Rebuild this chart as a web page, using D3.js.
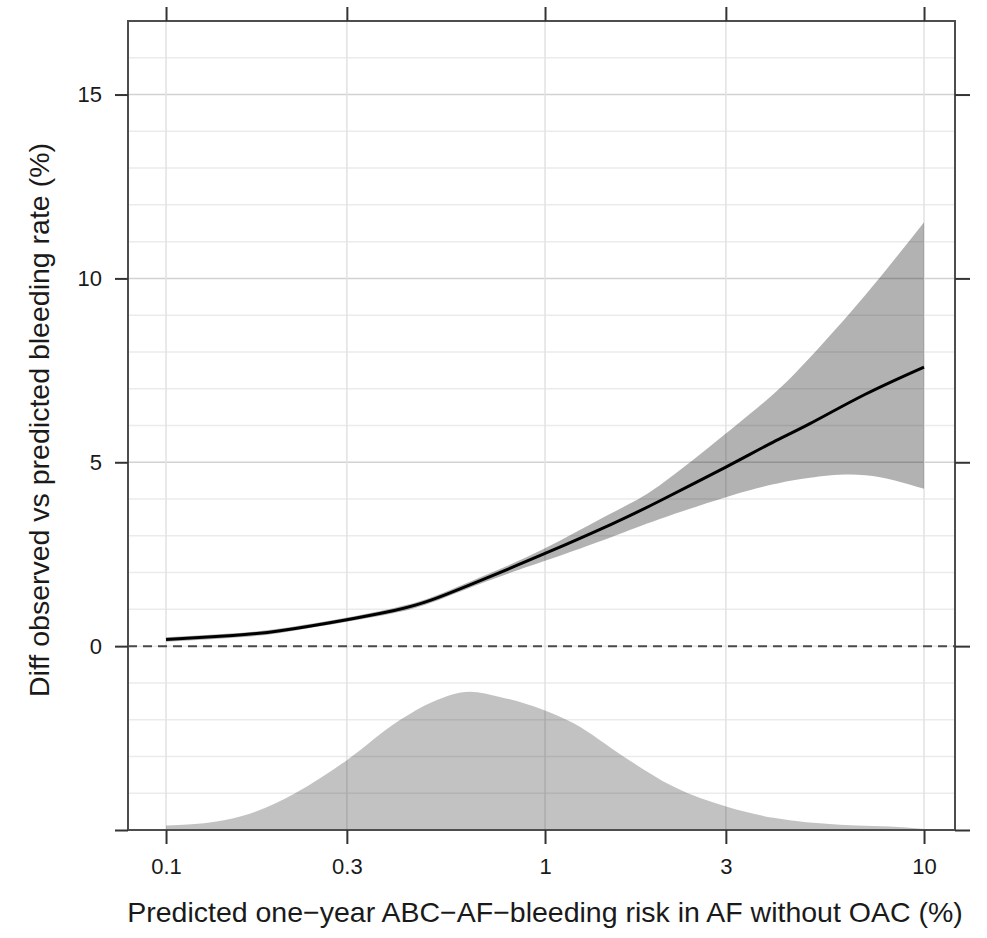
<!DOCTYPE html>
<html>
<head>
<meta charset="utf-8">
<script src="https://cdn.jsdelivr.net/npm/d3@7"></script>
<style>
  html, body { margin: 0; padding: 0; background: #fff; }
  svg { display: block; }
  text { font-family: "Liberation Sans", Arial, Helvetica, sans-serif; fill: #1a1a1a; }
</style>
</head>
<body>
<svg id="chart" width="987" height="938"></svg>
<script>
// ---- data ----
const xTickValues = [0.1, 0.3, 1, 3, 10];
const xTickLabels = ["0.1", "0.3", "1", "3", "10"];
const yTickValues = [-5, 0, 5, 10, 15];
const yTickLabels = ["", "0", "5", "10", "15"];

const fitX     = [0.1, 0.15, 0.2, 0.3, 0.4, 0.5, 0.7, 1, 1.5, 2, 3, 4, 5, 7, 10];
const fitY     = [0.18, 0.29, 0.42, 0.72, 0.97, 1.25, 1.85, 2.52, 3.32, 3.94, 4.87, 5.55, 6.05, 6.85, 7.59];
const upperY   = [0.24, 0.35, 0.48, 0.78, 1.04, 1.32, 1.94, 2.66, 3.62, 4.36, 5.78, 6.85, 7.85, 9.55, 11.53];
const lowerY   = [0.12, 0.23, 0.36, 0.66, 0.90, 1.18, 1.76, 2.32, 2.97, 3.45, 4.05, 4.40, 4.58, 4.65, 4.28];

const densX = [0.1, 0.136, 0.167, 0.219, 0.3, 0.414, 0.506, 0.634, 0.76, 0.988, 1.19, 1.61, 2.18, 3.02, 4.0, 6.0, 9.0, 10];
const densH = [0.12, 0.23, 0.45, 1.0, 1.9, 2.99, 3.49, 3.76, 3.62, 3.27, 2.9, 2.0, 1.18, 0.63, 0.33, 0.14, 0.07, 0.03];

const xTitle = "Predicted one\u2212year ABC\u2212AF\u2212bleeding risk in AF without OAC (%)";
const yTitle = "Diff observed vs predicted bleeding rate (%)";

// ---- layout ----
const L = 128, R = 955, T = 21, B = 830;
const svg = d3.select("#chart");

const x = d3.scaleLog().domain([0.07937, 12.07]).range([L, R]);
const y = d3.scaleLinear().domain([-5, 17]).range([B, T]);

// grid
const grid = svg.append("g");
grid.selectAll("line.h").data(d3.range(-4, 17)).join("line")
  .attr("x1", L).attr("x2", R)
  .attr("y1", d => y(d)).attr("y2", d => y(d))
  .attr("stroke", d => (d % 5 === 0 && d !== 0) ? "#d2d2d2" : "#ebebeb")
  .attr("stroke-width", 1.5);
grid.selectAll("line.v").data(xTickValues).join("line")
  .attr("x1", d => x(d)).attr("x2", d => x(d))
  .attr("y1", T).attr("y2", B)
  .attr("stroke", "#e2e2e2").attr("stroke-width", 1.5);

// density
const dens = densX.map((v, i) => ({x: v, h: densH[i]}));
svg.append("path").datum(dens)
  .attr("fill", "#000").attr("fill-opacity", 0.24)
  .attr("d", d3.area().curve(d3.curveMonotoneX)
    .x(d => x(d.x)).y0(y(-5)).y1(d => y(-5 + d.h)));

// confidence band
const fit = fitX.map((v, i) => ({x: v, f: fitY[i], u: upperY[i], l: lowerY[i]}));
svg.append("path").datum(fit)
  .attr("fill", "#000").attr("fill-opacity", 0.3)
  .attr("d", d3.area().curve(d3.curveNatural)
    .x(d => x(d.x)).y0(d => y(d.l)).y1(d => y(d.u)));

// zero line
svg.append("line")
  .attr("x1", L).attr("x2", R).attr("y1", y(0)).attr("y2", y(0))
  .attr("stroke", "#4a4a4a").attr("stroke-width", 2)
  .attr("stroke-dasharray", "9,6");

// fit line
svg.append("path").datum(fit)
  .attr("fill", "none").attr("stroke", "#000").attr("stroke-width", 3)
  .attr("d", d3.line().curve(d3.curveNatural).x(d => x(d.x)).y(d => y(d.f)));

// frame
svg.append("rect").attr("x", L).attr("y", T).attr("width", R - L).attr("height", B - T)
  .attr("fill", "none").attr("stroke", "#4d4d4d").attr("stroke-width", 2);

// axes
function styleAxis(g) {
  g.select(".domain").remove();
  g.selectAll(".tick line").attr("stroke", "#333").attr("stroke-width", 2);
  g.selectAll(".tick text").style("font-family", "'Liberation Sans', Arial, sans-serif").attr("fill", "#1a1a1a");
}
svg.append("g").attr("transform", `translate(0,${B})`)
  .call(d3.axisBottom(x).tickValues(xTickValues).tickSize(14).tickPadding(14)
    .tickFormat((d, i) => xTickLabels[i]))
  .call(styleAxis)
  .call(g => g.selectAll(".tick text").attr("font-size", 22));
svg.append("g").attr("transform", `translate(0,${T})`)
  .call(d3.axisTop(x).tickValues(xTickValues).tickSize(14).tickFormat(""))
  .call(styleAxis);
svg.append("g").attr("transform", `translate(${L},0)`)
  .call(d3.axisLeft(y).tickValues(yTickValues).tickSize(13).tickPadding(13)
    .tickFormat((d, i) => yTickLabels[i]))
  .call(styleAxis)
  .call(g => g.selectAll(".tick text").attr("font-size", 22));
svg.append("g").attr("transform", `translate(${R},0)`)
  .call(d3.axisRight(y).tickValues(yTickValues).tickSize(15).tickFormat(""))
  .call(styleAxis);

// titles
svg.append("text").attr("x", 545).attr("y", 922)
  .attr("text-anchor", "middle").attr("font-size", 28.5).text(xTitle);
svg.append("text").attr("transform", `translate(49,${420}) rotate(-90)`)
  .attr("text-anchor", "middle").attr("font-size", 28.5).text(yTitle);
</script>
</body>
</html>
